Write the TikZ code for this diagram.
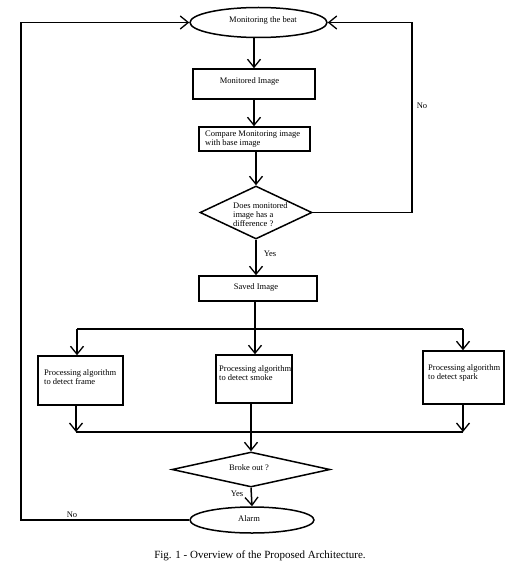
\documentclass[tikz,border=0pt]{standalone}
\usepackage{fontspec}
\setmainfont{Liberation Serif}
\usetikzlibrary{arrows.meta,shapes.geometric}
\newcommand\smallfs{\fontsize{8.5}{9}\selectfont}
\begin{document}
\begin{tikzpicture}[x=1pt,y=-1pt,
  ln/.style={line width=1.5pt},
  boxnode/.style={draw,ln,rectangle,inner sep=0pt},
  termnode/.style={draw,ln,ellipse,inner sep=0pt},
  decnode/.style={draw,ln,diamond,inner sep=0pt},
  txt/.style={font=\smallfs,inner sep=0pt,align=left},
  arr/.style={ln,-{Straight Barb[length=8pt,width=13pt,line width=1.3pt]}}]
\useasboundingbox (0,0) rectangle (529,567);
% shapes
\node[termnode,minimum width=137pt,minimum height=30pt] (beat) at (258.5,22.5) {};
\node[boxnode,minimum width=122pt,minimum height=30pt] (mon) at (254,84) {};
\node[boxnode,minimum width=111pt,minimum height=24pt] (cmp) at (254.5,139) {};
\node[decnode,minimum width=112pt,minimum height=53pt] (dec1) at (256,212.5) {};
\node[boxnode,minimum width=118pt,minimum height=25pt] (saved) at (258,288.5) {};
\node[boxnode,minimum width=85pt,minimum height=49pt] (p1) at (80.5,380.5) {};
\node[boxnode,minimum width=76pt,minimum height=48pt] (p2) at (254,379) {};
\node[boxnode,minimum width=81pt,minimum height=53pt] (p3) at (463.5,377.5) {};
\node[decnode,minimum width=158pt,minimum height=35pt] (dec2) at (251,469.5) {};
\node[termnode,minimum width=124pt,minimum height=26pt] (alarm) at (252,520) {};
% texts
\node[txt] (tbeat) at (263,20) {Monitoring the beat};
\node[txt] (tmon) at (249.5,81) {Monitored Image};
\node[txt,anchor=west] (tcmp) at (205,139.5) {Compare Monitoring image\\with base image};
\node[txt,anchor=west] (tdec1) at (233,215) {Does monitored\\image has a\\difference ?};
\node[txt] (tsaved) at (256,287) {Saved Image};
\node[txt,anchor=west] (tp1) at (44,377) {Processing algorithm\\to detect frame};
\node[txt,anchor=west] (tp2) at (219,373) {Processing algorithm\\to detect smoke};
\node[txt,anchor=west] (tp3) at (428,372.5) {Processing algorithm\\to detect spark};
\node[txt] (tdec2) at (249,468) {Broke out ?};
\node[txt] (talarm) at (249,519) {Alarm};
\node[txt] (lno1) at (422,106) {No};
\node[txt] (lyes1) at (270,254) {Yes};
\node[txt] (lyes2) at (237,494) {Yes};
\node[txt] (lno2) at (72,515) {No};
\node[font=\fontsize{11}{13}\selectfont,inner sep=0pt] (cap) at (260,556) {Fig. 1 - Overview of the Proposed Architecture.};
% coordinates
\coordinate (nr) at (412,22.5);
\coordinate (nl) at (21,22.5);
\coordinate (sp) at (255,329);
\coordinate (sl) at (77,329);
\coordinate (sr) at (463,329);
\coordinate (ml) at (76,432);
\coordinate (mr) at (463,432);
% connectors
\draw[arr] (mon.north |- beat.south) -- (mon.north);
\draw[arr] (mon.south) -- (mon.south |- cmp.north);
\draw[arr] (cmp.south -| dec1.north) -- (dec1.north);
\draw[arr] (dec1.east) -| (nr) -- (beat.east);
\draw[arr] (dec1.south) -- (dec1.south |- saved.north);
\draw[ln] (saved.south -| sp) -- (sp);
\draw[ln] (sl) -- (sr);
\draw[arr] (sl) -- (sl |- p1.north);
\draw[arr] (sp) -- (sp |- p2.north);
\draw[arr] (sr) -- (sr |- p3.north);
\draw[ln] (ml) -- (mr);
\draw[arr] (ml |- p1.south) -- (ml);
\draw[arr] (mr |- p3.south) -- (mr);
\draw[arr] (p2.south -| dec2.north) -- (dec2.north);
\draw[arr] (dec2.south) -- (alarm.north);
\draw[arr] (alarm.west) -| (nl) -- (beat.west);
\end{tikzpicture}
\end{document}
